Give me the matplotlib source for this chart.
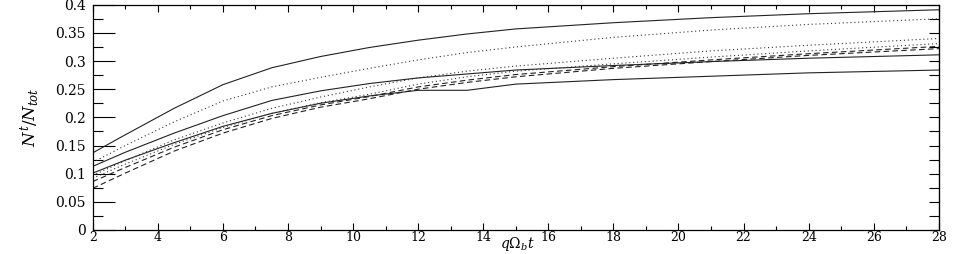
import matplotlib
matplotlib.use("Agg")
import matplotlib.pyplot as plt
from matplotlib.ticker import MultipleLocator

plt.rcParams['font.family'] = 'DejaVu Serif'
plt.rcParams['mathtext.fontset'] = 'dejavuserif'

# time axis (q Omega_b t)
t = [2, 3, 4.5, 6, 7.5, 9, 10.5, 12, 13.5, 15, 18, 21, 24, 28]

# solid curves
solid_top = [0.137, 0.169, 0.216, 0.258, 0.288, 0.308, 0.324, 0.337, 0.348, 0.357, 0.368, 0.377, 0.384, 0.391]
solid_mid = [0.113, 0.138, 0.172, 0.203, 0.230, 0.247, 0.260, 0.270, 0.277, 0.284, 0.292, 0.299, 0.305, 0.311]
solid_low = [0.101, 0.124, 0.155, 0.184, 0.207, 0.225, 0.238, 0.248, 0.248, 0.259, 0.267, 0.273, 0.279, 0.284]

# dotted curves
dot_top = [0.120, 0.150, 0.192, 0.229, 0.254, 0.271, 0.287, 0.302, 0.315, 0.325, 0.342, 0.355, 0.365, 0.375]
dot_mid = [0.097, 0.123, 0.160, 0.190, 0.216, 0.236, 0.254, 0.270, 0.282, 0.291, 0.305, 0.318, 0.328, 0.340]
dot_low = [0.092, 0.117, 0.152, 0.182, 0.207, 0.226, 0.241, 0.259, 0.272, 0.282, 0.295, 0.307, 0.318, 0.331]

# dashed curves
dash_a = [0.086, 0.111, 0.147, 0.178, 0.203, 0.222, 0.237, 0.254, 0.266, 0.276, 0.290, 0.302, 0.313, 0.326]
dash_b = [0.074, 0.101, 0.140, 0.172, 0.198, 0.218, 0.233, 0.250, 0.262, 0.272, 0.287, 0.299, 0.310, 0.322]

fig = plt.figure(figsize=(9.56, 2.54), dpi=100)
ax = fig.add_axes([0.097, 0.0945, 0.885, 0.887])

lw = 0.8
for y in (solid_top, solid_mid, solid_low):
    ax.plot(t, y, color='#222222', lw=lw, ls='-')
for y in (dot_top, dot_mid, dot_low):
    ax.plot(t, y, color='#333333', lw=lw, ls=(0, (1, 2.5)))
for y in (dash_a, dash_b):
    ax.plot(t, y, color='#222222', lw=lw, ls=(0, (5, 3)))

ax.set_xlim(2, 28)
ax.set_ylim(0, 0.4)
ax.xaxis.set_major_locator(MultipleLocator(2))
ax.xaxis.set_minor_locator(MultipleLocator(1))
ax.yaxis.set_major_locator(MultipleLocator(0.05))
ax.yaxis.set_minor_locator(MultipleLocator(0.025))
ax.set_yticklabels(['0' if v == 0 else ('%g' % v) for v in ax.get_yticks()])

ax.tick_params(axis='x', which='major', direction='in', top=True, length=5, width=0.8, labelsize=9, pad=1)
ax.tick_params(axis='x', which='minor', direction='in', top=True, length=3, width=0.8)
ax.tick_params(axis='y', which='major', direction='in', length=16, width=0.8, labelsize=10, pad=5)
ax.tick_params(axis='y', which='minor', direction='in', length=7, width=0.8)

sec = ax.secondary_yaxis('right')
sec.yaxis.set_major_locator(MultipleLocator(0.025))
sec.tick_params(direction='in', length=7, width=0.8, labelright=False)

# x label placed in figure space so it stays inside the short canvas
fig.text(0.541, 0.005, r'$q\Omega_b t$', fontsize=10, ha='center', va='bottom')
ax.set_ylabel(r'$N^t/N_{tot}$', fontsize=12, labelpad=10)

for s in ax.spines.values():
    s.set_linewidth(0.9)

fig.savefig('out.png', dpi=100)
